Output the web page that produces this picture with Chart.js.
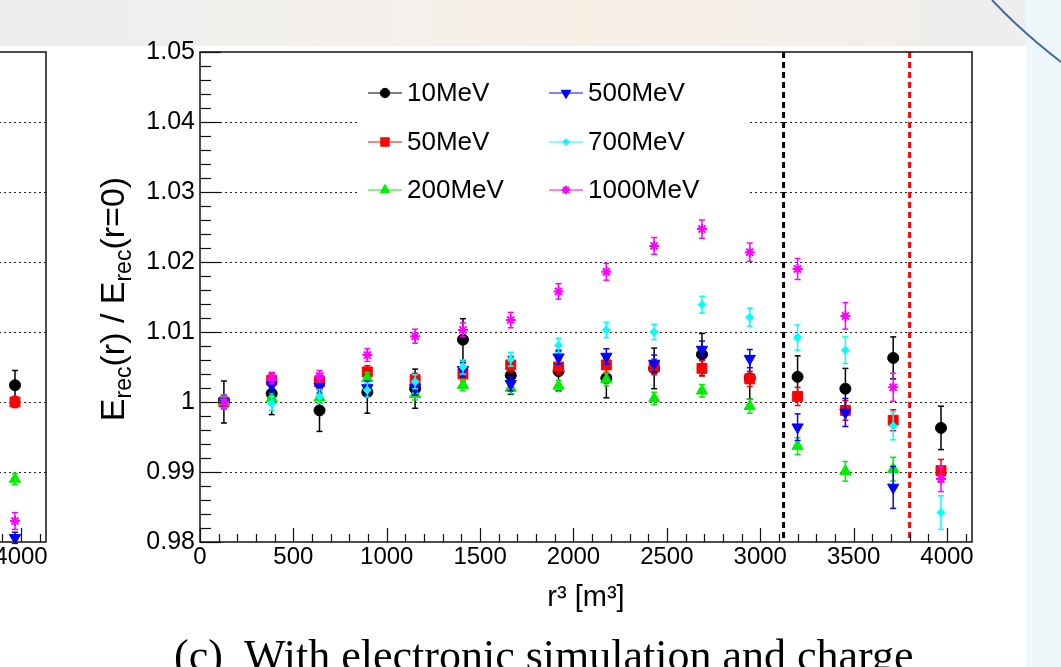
<!DOCTYPE html>
<html>
<head>
<meta charset="utf-8">
<script src="https://cdn.jsdelivr.net/npm/chart.js@4.4.0/dist/chart.umd.min.js"></script>
<style>
  html, body { margin: 0; padding: 0; width: 1061px; height: 667px; overflow: hidden; background: #fff; }
  #band { position: absolute; left: 0; top: 0; width: 1061px; height: 46px;
    background: linear-gradient(90deg, #eeeeee 0%, #f3f0ec 35%, #f7eee4 55%, #f3efea 75%, #eeeeee 100%); }
  #side { position: absolute; left: 1026px; top: 0; width: 35px; height: 667px; background: #eef8fa; }
  #deco { position: absolute; left: 0; top: 0; }
  canvas { position: absolute; top: 0; }
  #main { left: 0; }
  #prev { left: -926px; }
  #caption { position: absolute; left: 174px; top: 630px; font-family: "Liberation Serif", serif;
    font-size: 44px; white-space: nowrap; color: #000; }
</style>
</head>
<body>
<div id="band"></div>
<div id="side"></div>
<svg id="deco" width="1061" height="667"><path d="M 992 0 Q 1022 32 1061 62" fill="none" stroke="#3d6c9c" stroke-width="2"/></svg>
<canvas id="prev" width="1061" height="667"></canvas>
<canvas id="main" width="1061" height="667"></canvas>
<div id="caption">(c)&nbsp; With electronic simulation and charge</div>
<script>
// r^3 bin centres [m^3]
const r3 = [128, 384, 640, 896, 1152, 1408, 1664, 1920, 2176, 2432, 2688, 2944, 3200, 3456, 3712, 3968];
const xTicks = [0, 500, 1000, 1500, 2000, 2500, 3000, 3500, 4000];

const e10 = [1.0000, 1.0012, 0.9988, 1.0014, 1.0019, 1.0089, 1.0038, 1.0044, 1.0034, 1.0048, 1.0068, 1.0034, 1.0036, 1.0019, 1.0063, 0.9963];
const e10err = [0.0030, 0.0030, 0.0030, 0.0030, 0.0028, 0.0030, 0.0027, 0.0028, 0.0028, 0.0029, 0.0030, 0.0030, 0.0030, 0.0029, 0.0030, 0.0031];

const e50 = [1.0000, 1.0031, 1.0029, 1.0043, 1.0032, 1.0040, 1.0053, 1.0050, 1.0053, 1.0050, 1.0048, 1.0033, 1.0008, 0.9988, 0.9974, 0.9902];
const e50err = [0.0010, 0.0009, 0.0009, 0.0009, 0.0009, 0.0010, 0.0010, 0.0010, 0.0011, 0.0011, 0.0011, 0.0011, 0.0013, 0.0014, 0.0015, 0.0016];

const e200 = [1.0000, 1.0005, 1.0006, 1.0034, 1.0011, 1.0024, 1.0020, 1.0023, 1.0032, 1.0005, 1.0016, 0.9994, 0.9937, 0.9901, 0.9904, null];
const e200err = [0.0008, 0.0008, 0.0008, 0.0008, 0.0008, 0.0008, 0.0008, 0.0008, 0.0009, 0.0009, 0.0009, 0.0010, 0.0012, 0.0014, 0.0017, 0];

const e500 = [1.0000, 1.0024, 1.0022, 1.0020, 1.0020, 1.0046, 1.0026, 1.0064, 1.0065, 1.0055, 1.0075, 1.0062, 0.9964, 0.9985, 0.9878, null];
const e500err = [0.0010, 0.0010, 0.0010, 0.0010, 0.0010, 0.0010, 0.0010, 0.0010, 0.0011, 0.0012, 0.0012, 0.0013, 0.0019, 0.0020, 0.0030, 0];

const e700 = [1.0000, 0.9998, 1.0008, 1.0017, 1.0029, 1.0050, 1.0061, 1.0081, 1.0103, 1.0100, 1.0139, 1.0121, 1.0092, 1.0074, 0.9966, 0.9842];
const e700err = [0.0010, 0.0010, 0.0010, 0.0010, 0.0010, 0.0010, 0.0010, 0.0010, 0.0011, 0.0011, 0.0012, 0.0013, 0.0018, 0.0019, 0.0020, 0.0024];

const e1000 = [1.0000, 1.0034, 1.0037, 1.0067, 1.0094, 1.0103, 1.0117, 1.0158, 1.0186, 1.0223, 1.0247, 1.0214, 1.0190, 1.0123, 1.0021, 0.9890];
const e1000err = [0.0010, 0.0008, 0.0008, 0.0009, 0.0010, 0.0010, 0.0011, 0.0011, 0.0012, 0.0012, 0.0013, 0.0013, 0.0015, 0.0019, 0.0020, 0.0018];

// neighbouring panel (b), only its last bin is visible at the left edge
const prevX = [3968];
const prev10 = [1.0024], prev10err = [0.0021];
const prev50 = [1.0000], prev50err = [0.0008];
const prev200 = [0.9890], prev200err = [0.0008];
const prev500 = [0.9806], prev500err = [0.0008];
const prev1000 = [0.9830], prev1000err = [0.0012];

const labels = ['10MeV', '50MeV', '200MeV', '500MeV', '700MeV', '1000MeV'];
const colors = ['#000000', '#ff0000', '#00ee00', '#0000ff', '#00ffff', '#ff00ff'];
const cutLines = [3125, 3800];
const cutColors = ['#000000', '#ff0000'];

const xMin = 0, xMax = 4134, yMin = 0.98, yMax = 1.05;
const FONT = '"Liberation Sans", Arial, sans-serif';

const markers = [
  {pointStyle: 'circle', radius: 5.5},
  {pointStyle: 'rect', radius: 7},
  {pointStyle: 'triangle', radius: 6.5},
  {pointStyle: 'triangle', radius: 6.5, rotation: 180},
  {pointStyle: 'rectRot', radius: 4},
  {pointStyle: 'star', radius: 5, borderWidth: 2}
];

function makeSet(i, xs, ys, errs) {
  const m = markers[i];
  return {
    label: labels[i],
    data: xs.map((x, k) => ({x: x, y: ys[k]})).filter(p => p.y !== null),
    errors: errs.filter((e, k) => ys[k] !== null),
    showLine: false,
    pointStyle: m.pointStyle,
    pointRadius: m.radius,
    pointRotation: m.rotation || 0,
    pointBackgroundColor: colors[i],
    pointBorderColor: colors[i],
    pointBorderWidth: m.borderWidth || 1,
    order: 6 - i
  };
}

function line(ctx, x1, y1, x2, y2) {
  ctx.beginPath(); ctx.moveTo(x1, y1); ctx.lineTo(x2, y2); ctx.stroke();
}

function drawYTitle(ctx, cx, cy) {
  const parts = [['E', 0], ['rec', 1], ['(r) / E', 0], ['rec', 1], ['(r=0)', 0]];
  const big = 34, small = 23;
  ctx.save();
  ctx.translate(cx, cy);
  ctx.rotate(-Math.PI / 2);
  let total = 0;
  parts.forEach(p => { ctx.font = (p[1] ? small : big) + 'px ' + FONT; total += ctx.measureText(p[0]).width; });
  let xx = -total / 2;
  ctx.fillStyle = '#000';
  ctx.textBaseline = 'alphabetic';
  parts.forEach(p => {
    ctx.font = (p[1] ? small : big) + 'px ' + FONT;
    ctx.fillText(p[0], xx, p[1] ? 7 : 0);
    xx += ctx.measureText(p[0]).width;
  });
  ctx.restore();
}

const rootStyle = {
  id: 'rootStyle',
  beforeDatasetsDraw(chart, args, opts) {
    const {ctx, chartArea: a, scales: {x, y}} = chart;
    ctx.save();
    ctx.fillStyle = '#fff';
    ctx.fillRect(a.left, a.top, a.right - a.left, a.bottom - a.top);
    // dotted grid on the major y ticks
    ctx.strokeStyle = '#222';
    ctx.lineWidth = 1;
    ctx.setLineDash([2, 3]);
    y.ticks.forEach(t => {
      if (t.value > yMin + 1e-6 && t.value < yMax - 1e-6) {
        const py = Math.round(y.getPixelForValue(t.value)) + 0.5;
        line(ctx, a.left, py, a.right, py);
      }
    });
    // fiducial cut lines
    if (opts.cuts) {
      ctx.lineWidth = 3;
      ctx.setLineDash([6, 4]);
      cutLines.forEach((v, i) => {
        ctx.strokeStyle = cutColors[i];
        const px = x.getPixelForValue(v);
        line(ctx, px, a.top, px, a.bottom);
      });
    }
    ctx.restore();
  },
  beforeDatasetDraw(chart, args) {
    const {ctx, scales: {x, y}} = chart;
    const ds = chart.data.datasets[args.index];
    ctx.save();
    ctx.strokeStyle = ds.pointBorderColor;
    ctx.lineWidth = 1.5;
    ds.data.forEach((p, k) => {
      const e = ds.errors[k];
      if (!e) return;
      const px = x.getPixelForValue(p.x);
      const y1 = y.getPixelForValue(p.y + e), y2 = y.getPixelForValue(p.y - e);
      line(ctx, px, y1, px, y2);
      line(ctx, px - 3, y1, px + 3, y1);
      line(ctx, px - 3, y2, px + 3, y2);
    });
    ctx.restore();
  },
  afterDatasetsDraw(chart, args, opts) {
    const {ctx, chartArea: a, scales: {x, y}} = chart;
    ctx.save();
    ctx.strokeStyle = '#111';
    ctx.lineWidth = 1.5;
    ctx.setLineDash([]);
    ctx.strokeRect(a.left, a.top, a.right - a.left, a.bottom - a.top);
    ctx.lineWidth = 1.2;
    // x ticks: major every 500, minor every 100, pointing inwards
    for (let v = 0; v <= xMax; v += 100) {
      const px = Math.round(x.getPixelForValue(v)) + 0.5;
      const len = v % 500 === 0 ? 14 : 8;
      line(ctx, px, a.bottom, px, a.bottom - len);
    }
    // y ticks: major every 0.01, minor every 0.002
    for (let k = 0; k <= 35; k++) {
      const v = yMin + k * 0.002;
      const py = Math.round(y.getPixelForValue(v)) + 0.5;
      const len = k % 5 === 0 ? 21 : 11;
      line(ctx, a.left, py, a.left + len, py);
    }
    if (opts.legend) {
      const L = opts.legend;
      ctx.fillStyle = '#fff';
      ctx.fillRect(L.left, L.top, L.width, L.height);
      chart.data.datasets.forEach((ds, i) => {
        const col = Math.floor(i / 3), row = i % 3;
        const lx = L.colX[col], ly = L.rowY[row];
        ctx.strokeStyle = ds.pointBorderColor;
        ctx.lineWidth = 1.2;
        line(ctx, lx, ly, lx + 34, ly);
        ctx.fillStyle = ds.pointBackgroundColor;
        ctx.lineWidth = ds.pointBorderWidth;
        Chart.helpers.drawPoint(ctx, {pointStyle: ds.pointStyle, radius: ds.pointRadius * 0.85,
          rotation: ds.pointRotation, borderWidth: ds.pointBorderWidth}, lx + 17, ly);
        ctx.fillStyle = '#000';
        ctx.font = '26px ' + FONT;
        ctx.textBaseline = 'middle';
        ctx.textAlign = 'left';
        ctx.fillText(ds.label, lx + 39, ly + 1);
      });
    }
    if (opts.yTitle) drawYTitle(ctx, opts.yTitle.x, opts.yTitle.y);
    ctx.restore();
  }
};

function makeChart(el, datasets, extra) {
  return new Chart(el, {
    type: 'scatter',
    data: {datasets: datasets},
    options: {
      responsive: false,
      animation: false,
      events: [],
      layout: {padding: {left: 0, top: 52, right: 89, bottom: 0}},
      plugins: {
        legend: {display: false},
        tooltip: {enabled: false},
        rootStyle: extra
      },
      scales: {
        x: {
          type: 'linear', min: xMin, max: xMax,
          grid: {display: false, drawTicks: false},
          border: {display: false},
          afterBuildTicks(s) { s.ticks = xTicks.map(v => ({value: v})); },
          ticks: {autoSkip: false, padding: 1, color: '#000',
            font: {family: FONT, size: 24}, maxRotation: 0, callback: v => String(v)},
          title: {display: true, text: 'r³ [m³]', color: '#000',
            font: {family: FONT, size: 29}, padding: {top: 0, bottom: 52}},
          afterFit(s) { s.height = 125; }
        },
        y: {
          type: 'linear', min: yMin, max: yMax,
          grid: {display: false, drawTicks: false},
          border: {display: false},
          ticks: {stepSize: 0.01, padding: 5, color: '#000', font: {family: FONT, size: 25},
            callback: v => String(+v.toFixed(2))},
          afterFit(s) { s.width = 200; }
        }
      }
    },
    plugins: [rootStyle]
  });
}

makeChart(document.getElementById('prev'), [
  makeSet(0, prevX, prev10, prev10err),
  makeSet(1, prevX, prev50, prev50err),
  makeSet(2, prevX, prev200, prev200err),
  makeSet(3, prevX, prev500, prev500err),
  makeSet(5, prevX, prev1000, prev1000err)
], {cuts: false});

makeChart(document.getElementById('main'), [
  makeSet(0, r3, e10, e10err),
  makeSet(1, r3, e50, e50err),
  makeSet(2, r3, e200, e200err),
  makeSet(3, r3, e500, e500err),
  makeSet(4, r3, e700, e700err),
  makeSet(5, r3, e1000, e1000err)
], {
  cuts: true,
  legend: {left: 360, top: 68, width: 387, height: 150, colX: [368, 549], rowY: [93, 142, 190]},
  yTitle: {x: 124, y: 299}
});
</script>
</body>
</html>
